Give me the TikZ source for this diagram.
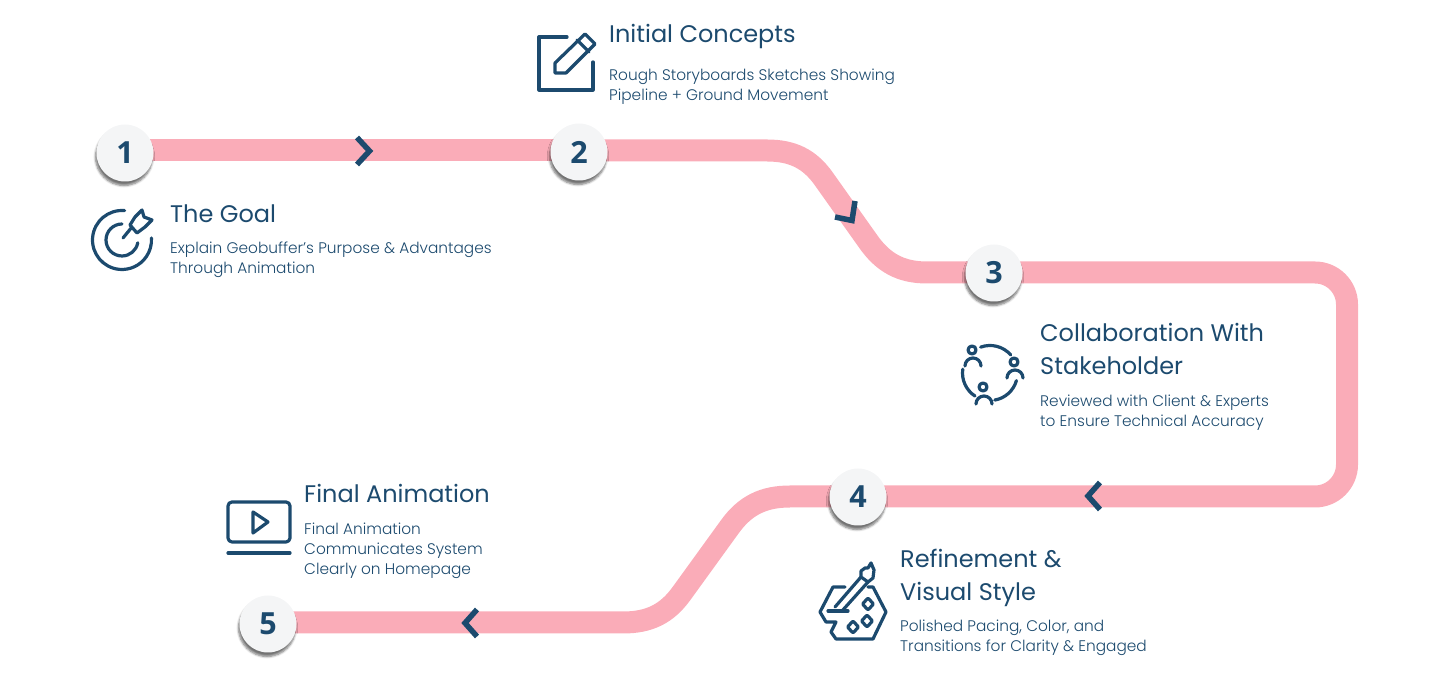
\documentclass[tikz,border=0pt]{standalone}
\usepackage{fontspec}
\usepackage{xcolor}
\usetikzlibrary{backgrounds,shadows.blur}
\setmainfont{Poppins}
\newfontfamily\bodyfont{Poppins Light}
\newfontfamily\numfont{Open Sans}

\definecolor{navy}{HTML}{1C4A6E}
\definecolor{bandpink}{HTML}{FAACB8}
\definecolor{discgray}{HTML}{F4F5F6}

\tikzset{
  band/.style={draw=bandpink,line width=22pt},
  stepdisc/.style={circle,fill=discgray,minimum size=57pt,inner sep=0pt,text=navy,
    font=\numfont\bfseries\fontsize{30.5}{36}\selectfont,
    blur shadow={shadow xshift=-1pt,shadow yshift=-4pt,shadow blur steps=6,shadow opacity=55}},
  chevron/.style={draw=navy,line width=5.5pt,miter limit=10},
  icon/.style={draw=navy,line width=3.2pt,line cap=round,line join=round},
  titletxt/.style={anchor=base west,inner sep=0pt,text=navy,align=left,
    font=\fontsize{24}{33}\selectfont},
  bodytxt/.style={anchor=base west,inner sep=0pt,text=navy,align=left,
    font=\bodyfont\fontsize{15.35}{20}\selectfont},
}

\begin{document}
\begin{tikzpicture}[x=1pt,y=1pt]
\useasboundingbox (0,0) rectangle (1440,676);

\node[stepdisc] (n1) at (125,523) {1};
\node[stepdisc] (n2) at (579,524) {2};
\node[stepdisc] (n3) at (994,403) {3};
\node[stepdisc] (n4) at (858,179) {4};
\node[stepdisc] (n5) at (268,52) {5};

% band
\begin{pgfonlayer}{background}
\draw[band] ([yshift=2.5pt]n1.center) -- ([yshift=1.5pt]n2.center);
\draw[band] ([yshift=1.5pt]n2.center) -- (767,525.5) .. controls (792.6,525.5) and (809.5,517) .. (823.5,497.5)
  -- (867.5,435.5) .. controls (883,413) and (901,403.5) .. (927,403.5) -- ([yshift=.5pt]n3.center);
\draw[band,rounded corners=32pt] ([yshift=.5pt]n3.center) -- (1347,403.5) -- (1347,179.5) -- ([yshift=.5pt]n4.center);
\draw[band] ([yshift=.5pt]n4.center) -- (790,179.5) .. controls (763.4,179.5) and (745.2,170.5) .. (730,149.5)
  -- (681.5,82.5) .. controls (666.8,62.2) and (649.3,53.5) .. (623,53.5) -- ([yshift=1.5pt]n5.center);
\end{pgfonlayer}

% chevrons
\draw[chevron] (357,538.5) -- (369.5,525) -- (357,511.5);
\draw[chevron] (835,459) -- (852,455.5) -- (855,475);
\draw[chevron] (1100,193.5) -- (1088,180) -- (1100,166.5);
\draw[chevron] (477,66.5) -- (465,53) -- (477,39.5);

% step 1
\node[titletxt] (t1) at (170,453) {The Goal};
\node[bodytxt] (d1) at (170,402) {Explain Geobuffer’s Purpose \& Advantages\\Through Animation};
\draw[icon] (122,436) ++(85:29.5pt) arc[start angle=85,end angle=364,radius=29.5pt];
\draw[icon] (122,436) ++(90:16pt) arc[start angle=90,end angle=350,radius=16pt];
\draw[icon] (123,438) -- (132,449);
\draw[icon] (130,451) -- (135,459) -- (142,466) -- (144,459) -- (152,456) -- (145,449) -- (137,443) -- cycle;

% step 2
\node[titletxt] (t2) at (609,633) {Initial Concepts};
\node[bodytxt] (d2) at (609,575) {Rough Storyboards Sketches Showing\\Pipeline + Ground Movement};
\draw[icon] (567,639) -- (539,639) -- (539,586) -- (593,586) -- (593,614);
\draw[icon] (555,603) -- (555,613) -- (585,642) -- (595,632) -- (566,603) -- cycle;
\draw[icon] (577,636) -- (589,624);

% step 3
\node[titletxt] (t3) at (1040,301) {Collaboration With\\Stakeholder};
\node[bodytxt] (d3) at (1040,249) {Reviewed with Client \& Experts\\to Ensure Technical Accuracy};
\draw[icon] (972,326) circle[radius=4pt];
\draw[icon] (1014,314) circle[radius=4pt];
\draw[icon] (983,289) circle[radius=4pt];
\draw[icon] (965,310) arc[start angle=180,end angle=0,radius=8pt];
\draw[icon] (1007,298) arc[start angle=180,end angle=0,radius=8pt];
\draw[icon] (976,272) arc[start angle=180,end angle=0,radius=8pt];
\draw[icon] (990,303) ++(110:27.5pt) arc[start angle=110,end angle=41,radius=27.5pt];
\draw[icon] (990,303) ++(-16:27.5pt) arc[start angle=-16,end angle=-80,radius=27.5pt];
\draw[icon] (990,303) ++(172:27.5pt) arc[start angle=172,end angle=237,radius=27.5pt];

% step 4
\node[titletxt] (t4) at (900,75) {Refinement \&\\Visual Style};
\node[bodytxt] (d4) at (900,24) {Polished Pacing, Color, and\\Transitions for Clarity \& Engaged};
\draw[icon] (845,89) -- (833,89) -- (820,64) -- (826,54) -- (836,54) -- (831,44) -- (836,37) -- (873,37) -- (886,64) -- (873,89) -- (868,89);
\draw[icon] (828,65) -- (848,65);
\draw[icon] (835,69) -- (861,99);
\draw[icon] (842,65) -- (868,94);
\draw[icon] (861,99) -- (868,94) -- (873,98) -- (874,106) -- (871,113) -- (868,108) -- (865,108) -- (861,105) -- cycle;
\draw[icon,rounded corners=1pt] (868,78) -- (873.5,72) -- (868,66) -- (862.5,72) -- cycle;
\draw[icon,rounded corners=1pt] (867,61) -- (872.5,55) -- (867,49) -- (861.5,55) -- cycle;
\draw[icon,rounded corners=1pt] (853,55) -- (858.5,49) -- (853,43) -- (847.5,49) -- cycle;

% step 5
\node[titletxt] (t5) at (304,173) {Final Animation};
\node[bodytxt] (d5) at (304,101) {Final Animation\\Communicates System\\Clearly on Homepage};
\draw[icon,rounded corners=4pt] (228,174) rectangle (290,134);
\draw[icon] (228,123) -- (290,123);
\draw[icon] (253,164) -- (253,143) -- (268,154) -- cycle;

\end{tikzpicture}
\end{document}
